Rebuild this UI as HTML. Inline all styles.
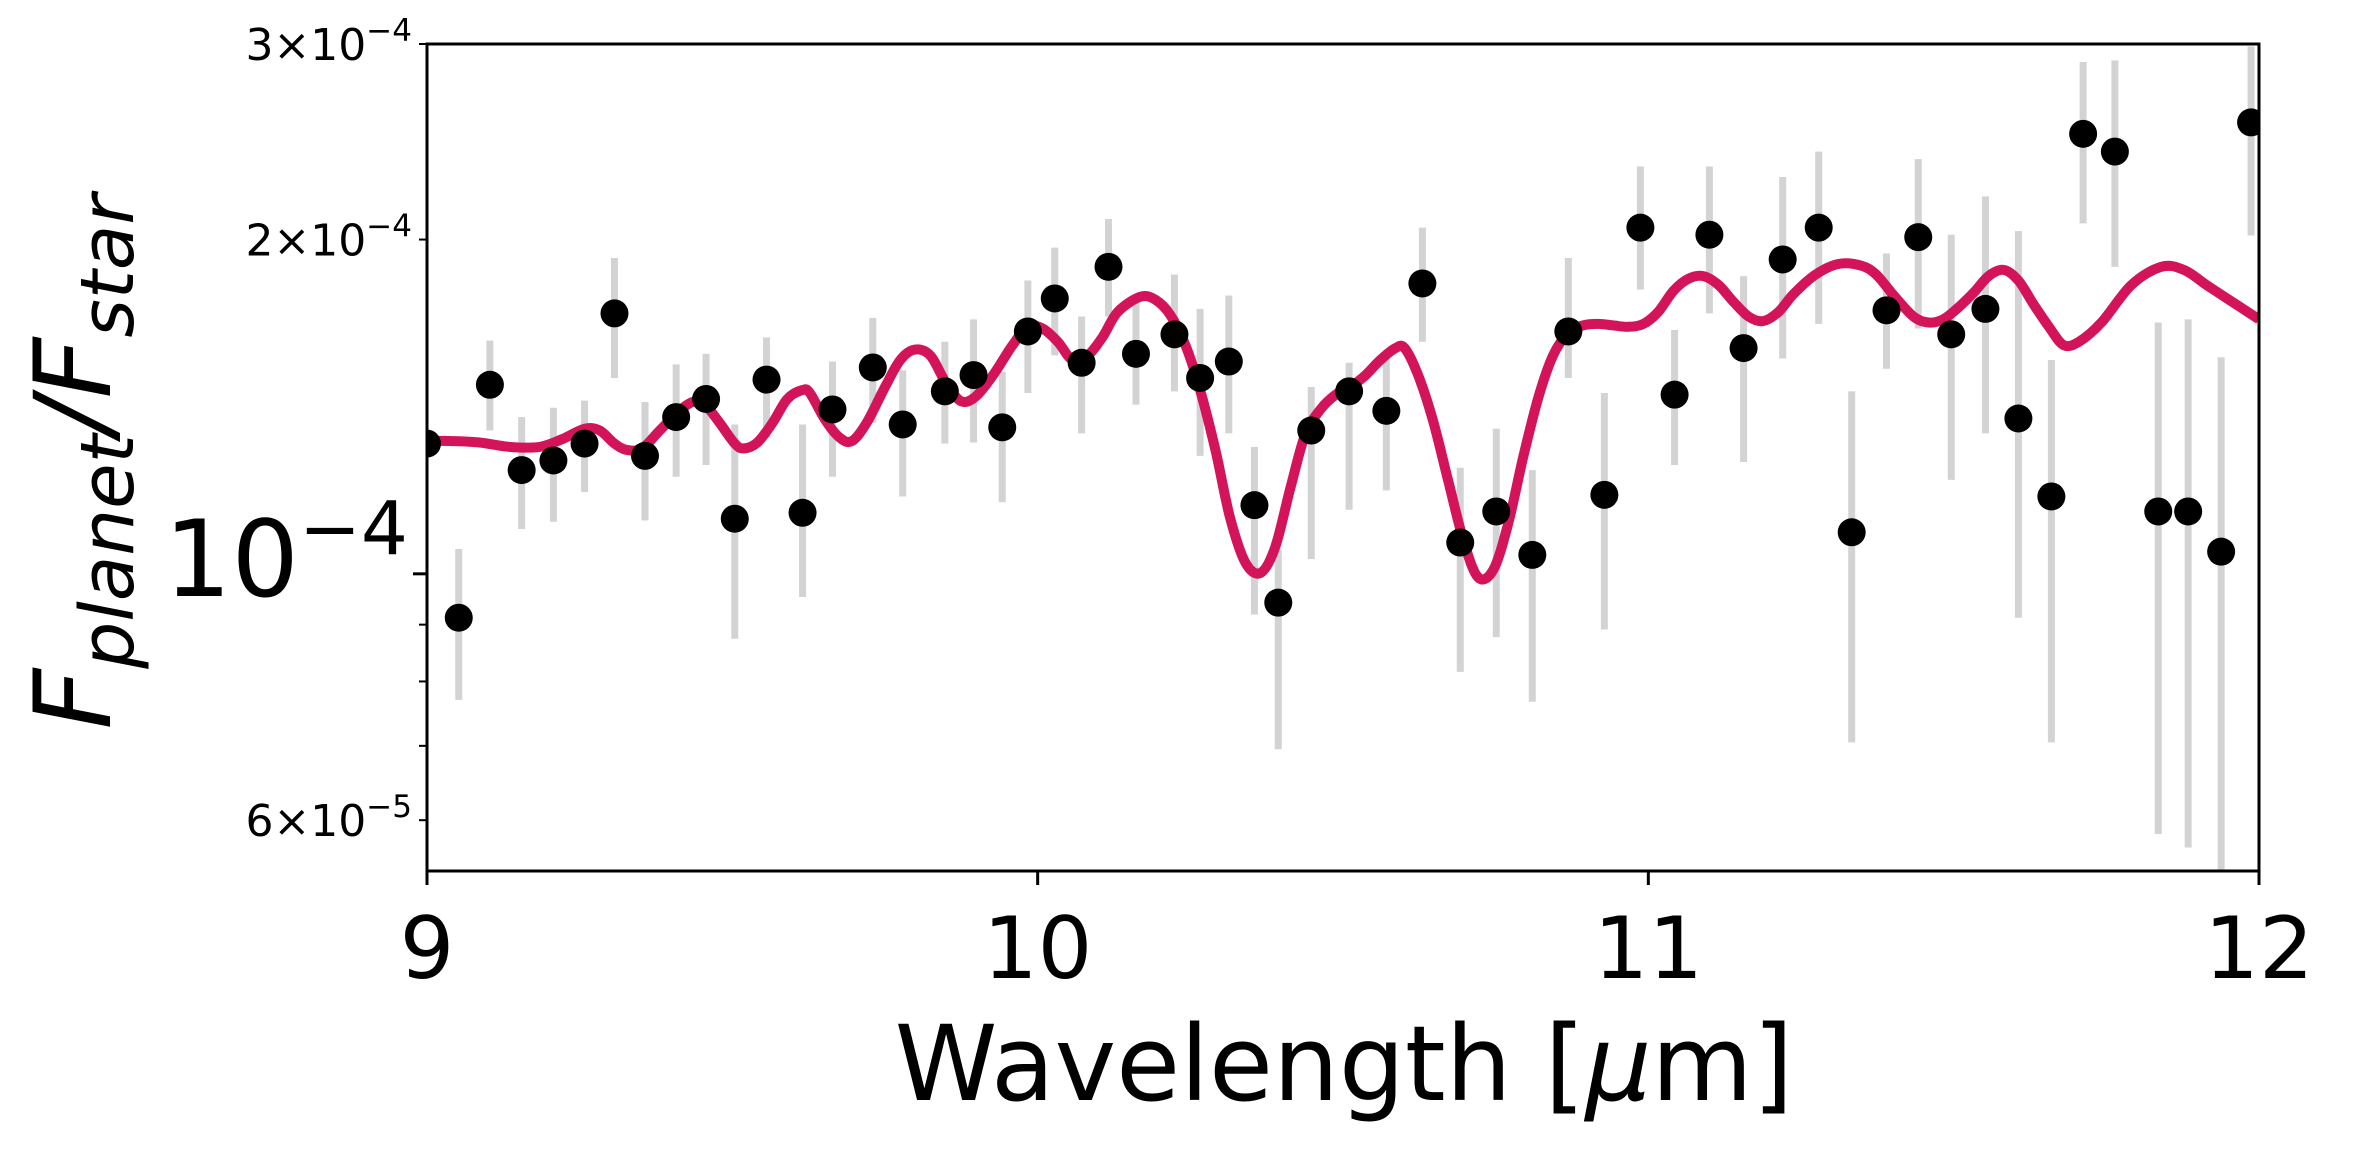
<!DOCTYPE html>
<html><head><meta charset="utf-8"><style>
html,body{margin:0;padding:0;background:#fff;}
svg{display:block;font-family:"DejaVu Sans","Liberation Sans",sans-serif;}
</style></head><body>
<svg id="chart" width="2354" height="1152" viewBox="0 0 2354 1152" xmlns="http://www.w3.org/2000/svg">
<defs><clipPath id="clip"><rect x="427" y="44" width="1832" height="827"/></clipPath></defs>
<rect width="2354" height="1152" fill="#fff"/>
<g id="bars" clip-path="url(#clip)"></g>
<g id="model" clip-path="url(#clip)"></g>
<g id="pts" clip-path="url(#clip)"></g>
<rect x="427" y="44" width="1832" height="827" fill="none" stroke="#000" stroke-width="3"/>
<g id="xticks"></g>
<g id="yticks"></g>
<text x="1344" y="1100" font-size="104" text-anchor="middle">Wavelength [<tspan font-style="italic">μ</tspan>m]</text>
<text transform="translate(110,462) rotate(-90)" font-size="106" font-style="italic" text-anchor="middle">F<tspan font-size="74" dy="23">planet</tspan><tspan dy="-23">/F</tspan><tspan font-size="74" dy="23">star</tspan></text>
</svg>
<script>
const wl=[9.000,9.052,9.103,9.155,9.207,9.258,9.307,9.357,9.408,9.457,9.504,9.556,9.615,9.664,9.730,9.779,9.848,9.895,9.942,9.984,10.028,10.072,10.116,10.161,10.224,10.266,10.313,10.355,10.394,10.448,10.510,10.571,10.630,10.692,10.751,10.810,10.869,10.928,10.987,11.043,11.100,11.156,11.220,11.279,11.333,11.390,11.442,11.496,11.552,11.606,11.660,11.712,11.764,11.835,11.884,11.938,11.987];
const flux=[1.31,0.913,1.48,1.24,1.265,1.31,1.716,1.277,1.384,1.437,1.121,1.496,1.135,1.406,1.534,1.363,1.46,1.51,1.355,1.653,1.77,1.549,1.89,1.578,1.643,1.501,1.553,1.153,0.942,1.346,1.46,1.402,1.826,1.067,1.138,1.04,1.653,1.178,2.05,1.45,2.02,1.597,1.919,2.05,1.09,1.727,2.01,1.643,1.732,1.38,1.174,2.49,2.40,1.138,1.138,1.047,2.55];
const fluxHi=[1.31,1.053,1.622,1.384,1.411,1.432,1.925,1.428,1.544,1.578,1.363,1.633,1.363,1.553,1.70,1.525,1.618,1.695,1.52,1.837,1.967,1.705,2.087,1.765,1.86,1.732,1.781,1.301,1.05,1.473,1.549,1.567,2.05,1.246,1.351,1.24,1.925,1.455,2.327,1.658,2.327,1.854,2.277,2.40,1.46,1.943,2.363,2.02,2.187,2.035,1.558,2.89,2.90,1.684,1.695,1.567,2.985];
const fluxLo=[1.31,0.770,1.346,1.097,1.114,1.185,1.501,1.117,1.223,1.253,0.874,1.326,0.953,1.223,1.368,1.174,1.31,1.313,1.16,1.455,1.573,1.338,1.705,1.42,1.46,1.277,1.338,0.919,0.695,1.031,1.142,1.189,1.618,0.816,0.877,0.767,1.501,0.891,1.803,1.253,1.716,1.261,1.563,1.679,0.705,1.53,1.663,1.215,1.338,0.913,0.705,2.068,1.89,0.583,0.567,0.533,2.017];
const modelWl=[9.000,9.037,9.086,9.135,9.184,9.221,9.258,9.283,9.307,9.327,9.352,9.381,9.411,9.435,9.455,9.479,9.504,9.519,9.541,9.566,9.590,9.615,9.627,9.652,9.676,9.696,9.720,9.750,9.775,9.799,9.824,9.848,9.873,9.897,9.927,9.959,9.984,10.008,10.033,10.057,10.082,10.106,10.131,10.168,10.193,10.217,10.242,10.266,10.291,10.315,10.340,10.365,10.389,10.414,10.438,10.463,10.488,10.512,10.537,10.561,10.586,10.601,10.623,10.647,10.672,10.697,10.721,10.746,10.770,10.795,10.820,10.844,10.869,10.893,10.918,10.942,10.967,10.992,11.016,11.041,11.065,11.090,11.115,11.139,11.164,11.188,11.213,11.238,11.274,11.311,11.348,11.373,11.402,11.434,11.459,11.483,11.508,11.533,11.557,11.582,11.606,11.631,11.656,11.680,11.705,11.742,11.791,11.840,11.877,11.914,11.951,12.000];
const modelFlux=[1.317,1.317,1.313,1.301,1.301,1.322,1.351,1.346,1.31,1.293,1.297,1.346,1.398,1.428,1.42,1.368,1.31,1.297,1.313,1.368,1.437,1.464,1.455,1.376,1.326,1.317,1.368,1.473,1.558,1.592,1.573,1.492,1.432,1.442,1.51,1.607,1.669,1.663,1.618,1.558,1.573,1.633,1.721,1.776,1.765,1.711,1.607,1.464,1.293,1.124,1.024,1.002,1.057,1.196,1.334,1.406,1.45,1.473,1.51,1.558,1.597,1.597,1.51,1.376,1.215,1.073,0.993,1.008,1.107,1.273,1.442,1.573,1.648,1.674,1.679,1.674,1.669,1.679,1.721,1.798,1.843,1.854,1.82,1.759,1.705,1.689,1.721,1.787,1.86,1.901,1.895,1.86,1.781,1.705,1.684,1.695,1.738,1.792,1.854,1.878,1.837,1.748,1.669,1.607,1.618,1.684,1.82,1.89,1.878,1.82,1.765,1.695];
const xTickVals=[9,10,11,12];
const xTickLabels=["9","10","11","12"];
const yMinorVals=[0.6,0.7,0.8,0.9,2,3];
const yLabelVals=[3,2,0.6];
const yLabelMant=["3","2","6"];
const yLabelExp=["\u22124","\u22124","\u22125"];
const NS="http://www.w3.org/2000/svg";
const X0=427,X1=2259,Y0=44,Y1=871;
const xmin=9,xmax=12,ymax=Math.log10(3),ymin=Math.log10(0.54);
function sx(v){return X0+(v-xmin)/(xmax-xmin)*(X1-X0);}
function sy(v){return Y0+(ymax-Math.log10(v))/(ymax-ymin)*(Y1-Y0);}
function mk(tag,attrs,parent){const e=document.createElementNS(NS,tag);for(const k in attrs)e.setAttribute(k,attrs[k]);parent.appendChild(e);return e;}
const bars=document.getElementById('bars'),pts=document.getElementById('pts'),model=document.getElementById('model');
for(let i=0;i<wl.length;i++){
  const b=mk('line',{x1:sx(wl[i]),x2:sx(wl[i]),y1:sy(fluxHi[i]),y2:sy(fluxLo[i]),stroke:'#d3d3d3','stroke-width':7},bars);
  
  
}
// smooth Catmull-Rom path through model points
const P=modelWl.map((w,i)=>[sx(w),sy(modelFlux[i])]);
let d='M'+P[0][0].toFixed(1)+','+P[0][1].toFixed(1);
for(let i=0;i<P.length-1;i++){
  const p0=P[Math.max(0,i-1)],p1=P[i],p2=P[i+1],p3=P[Math.min(P.length-1,i+2)];
  const c1x=p1[0]+(p2[0]-p0[0])/6,c1y=p1[1]+(p2[1]-p0[1])/6;
  const c2x=p2[0]-(p3[0]-p1[0])/6,c2y=p2[1]-(p3[1]-p1[1])/6;
  d+='C'+c1x.toFixed(1)+','+c1y.toFixed(1)+' '+c2x.toFixed(1)+','+c2y.toFixed(1)+' '+p2[0].toFixed(1)+','+p2[1].toFixed(1);
}
const ml=mk('path',{d:d,fill:'none',stroke:'#d4145a','stroke-width':10,'stroke-linejoin':'round'},model);


for(let i=0;i<wl.length;i++){
  const c=mk('circle',{cx:sx(wl[i]),cy:sy(flux[i]),r:14,fill:'#000'},pts);
  
  
}
const xt=document.getElementById('xticks');
for(let i=0;i<xTickVals.length;i++){
  const x=sx(xTickVals[i]);
  const t=mk('line',{x1:x,x2:x,y1:Y1,y2:Y1+14,stroke:'#000','stroke-width':3},xt);
  
  
  const l=mk('text',{x:x,y:978,'font-size':86,'text-anchor':'middle'},xt);
  l.textContent=xTickLabels[i];
  
  
}
const yt=document.getElementById('yticks');
const mj=mk('line',{x1:X0-14,x2:X0,y1:sy(1),y2:sy(1),stroke:'#000','stroke-width':3},yt);


for(let i=0;i<yMinorVals.length;i++){
  const y=sy(yMinorVals[i]);
  const t=mk('line',{x1:X0-8,x2:X0,y1:y,y2:y,stroke:'#000','stroke-width':2},yt);
  
  
}
for(let i=0;i<yLabelVals.length;i++){
  const y=sy(yLabelVals[i]);
  const l=mk('text',{x:412,y:y+16,'font-size':44,'text-anchor':'end'},yt);
  l.innerHTML=yLabelMant[i]+'\u00d710<tspan font-size="31" dy="-19">'+yLabelExp[i]+'</tspan>';
  
  
}
const big=mk('text',{x:408,y:sy(1)+22,'font-size':106,'text-anchor':'end'},yt);
big.innerHTML='10<tspan font-size="74" dy="-42">\u22124</tspan>';


</script>
</body></html>
